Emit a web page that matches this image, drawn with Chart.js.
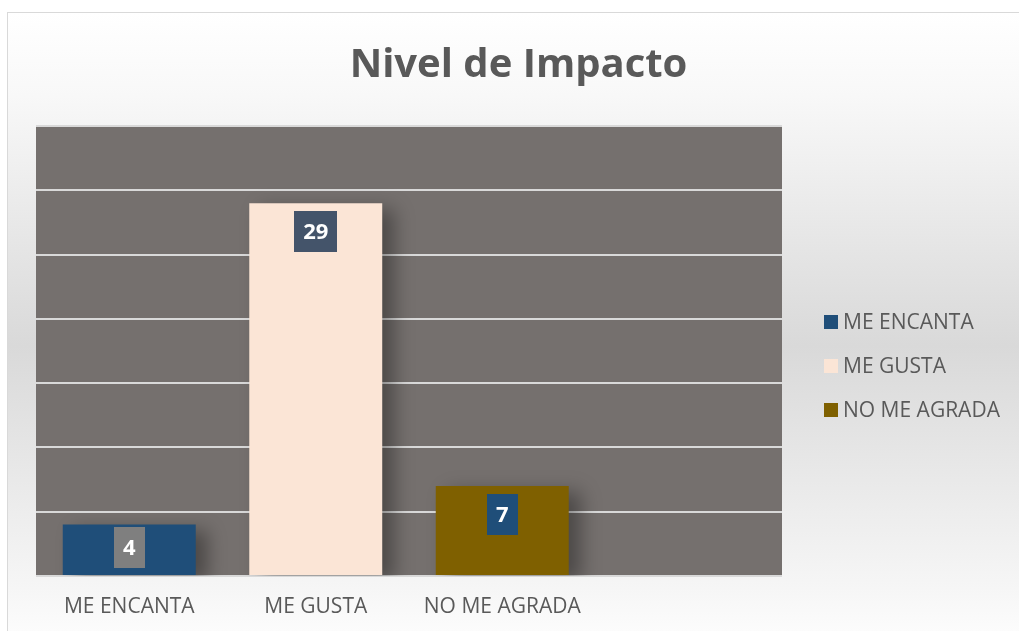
<!DOCTYPE html>
<html>
<head>
<meta charset="utf-8">
<script src="https://cdn.jsdelivr.net/npm/chart.js@4"></script>
<style>
    body { margin: 0; background: #fff; overflow: hidden; }
    #frame {
        position: absolute; left: 7px; top: 12px; width: 1030px; height: 640px;
        border: 1px solid #d9d9d9;
        background: linear-gradient(to bottom, #ffffff 0%, #f8f8f8 13%, #d9d9d9 52%, #f6f6f6 90%, #ffffff 100%);
    }
    #wrap { position: absolute; left: 0; top: 0; width: 1019px; height: 631px; }
</style>
</head>
<body>
<div id="frame"></div>
<div id="wrap"><canvas id="impact-chart" width="1019" height="631"></canvas></div>
<script>
const categories = ['ME ENCANTA', 'ME GUSTA', 'NO ME AGRADA', ''];
const values = [4, 29, 7, null];
const barColors = ['#1f4e79', '#fbe5d6', '#7f6000', 'rgba(0,0,0,0)'];
const labelBoxColors = ['#7f7f7f', '#44546a', '#1f4e79'];
const yMax = 35;
const yStep = 5;

const textColor = '#595959';

// gray plot background
const plotBg = {
    id: 'plotBg',
    beforeDraw(chart) {
        const { ctx, chartArea: a } = chart;
        ctx.save();
        ctx.fillStyle = '#75706e';
        ctx.fillRect(a.left, a.top, a.right - a.left, a.bottom - a.top);
        ctx.restore();
    }
};

// soft shadow behind the bars, then value boxes on top
const barDecor = {
    id: 'barDecor',
    beforeDatasetsDraw(chart) {
        const ctx = chart.ctx;
        ctx.save();
        ctx.shadowColor = 'rgba(0,0,0,0.35)';
        ctx.shadowBlur = 18;
        ctx.shadowOffsetX = 12;
        ctx.shadowOffsetY = 6;
    },
    afterDatasetsDraw(chart) {
        const ctx = chart.ctx;
        ctx.restore();
        const meta = chart.getDatasetMeta(0);
        const base = chart.scales.y.getPixelForValue(0);
        ctx.save();
        ctx.font = 'bold 22px "Open Sans"';
        ctx.textAlign = 'center';
        ctx.textBaseline = 'middle';
        meta.data.forEach((bar, i) => {
            if (values[i] == null) return;
            const txt = String(values[i]);
            const w = ctx.measureText(txt).width + 18;
            const h = 41;
            let top = bar.y + 8;
            if (top + h > base - 8) top = base - 8 - h;
            ctx.fillStyle = labelBoxColors[i];
            ctx.fillRect(Math.round(bar.x - w / 2), Math.round(top), Math.round(w), h);
            ctx.fillStyle = '#ffffff';
            ctx.fillText(txt, bar.x, top + h / 2 + 1);
        });
        ctx.restore();
    }
};

// legend at the right side
const sideLegend = {
    id: 'sideLegend',
    afterDraw(chart) {
        const ctx = chart.ctx;
        const x = 824;
        const y0 = 322;
        const gap = 44;
        ctx.save();
        ctx.font = '21px "Open Sans"';
        ctx.textBaseline = 'middle';
        ctx.textAlign = 'left';
        categories.slice(0, 3).forEach((name, i) => {
            const y = y0 + i * gap;
            ctx.fillStyle = barColors[i];
            ctx.fillRect(x, y - 7, 14, 14);
            ctx.fillStyle = textColor;
            ctx.fillText(name, x + 19, y + 1);
        });
        ctx.restore();
    }
};

const ctx = document.getElementById('impact-chart').getContext('2d');
new Chart(ctx, {
    type: 'bar',
    data: {
        labels: categories,
        datasets: [{
            label: 'Nivel de Impacto',
            data: values,
            backgroundColor: barColors,
            borderWidth: 0,
            categoryPercentage: 1,
            barPercentage: 0.713
        }]
    },
    options: {
        responsive: false,
        animation: false,
        layout: { padding: { left: 18, right: 0, bottom: 13 } },
        plugins: {
            legend: { display: false },
            tooltip: { enabled: false },
            title: {
                display: true,
                text: 'Nivel de Impacto',
                color: textColor,
                font: { family: 'Open Sans', size: 40, weight: 'bold', lineHeight: 1.2 },
                padding: { top: 42, bottom: 36 }
            }
        },
        scales: {
            x: {
                grid: { display: false, drawTicks: false },
                border: { display: false },
                ticks: {
                    color: textColor,
                    font: { family: 'Open Sans', size: 21 },
                    padding: 18,
                    maxRotation: 0
                },
                afterFit(scale) { scale.height = 42; }
            },
            y: {
                min: 0,
                max: yMax,
                ticks: { stepSize: yStep, display: false },
                grid: { color: '#d9d9d9', lineWidth: 2, drawTicks: false },
                border: { display: false },
                afterFit(scale) { scale.width = 18; }
            },
            legendSpace: {
                type: 'linear',
                position: 'right',
                display: true,
                grid: { display: false, drawTicks: false },
                border: { display: false },
                ticks: { display: false },
                afterFit(scale) { scale.width = 237; }
            }
        }
    },
    plugins: [plotBg, barDecor, sideLegend]
});
</script>
</body>
</html>
